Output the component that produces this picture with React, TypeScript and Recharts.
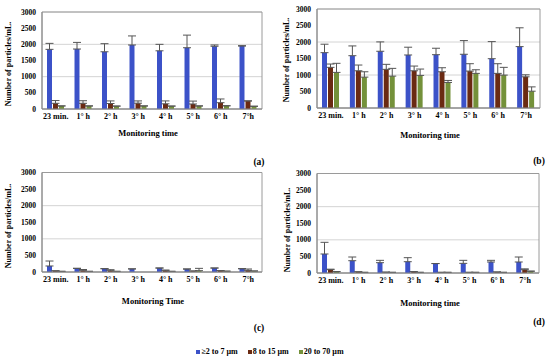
import { BarChart, Bar, XAxis, YAxis, CartesianGrid, ErrorBar, ReferenceArea } from "recharts";

const times = ["23 min.", "1° h", "2° h", "3° h", "4° h", "5° h", "6° h", "7°h"];
const yTicks = [0, 500, 1000, 1500, 2000, 2500, 3000];

// panel (a)
const aSmall = [1845, 1855, 1770, 1980, 1800, 1895, 1940, 1948];
const aSmallErr = [185, 205, 250, 280, 200, 390, 40, 10];
const aMid = [176, 176, 170, 180, 160, 155, 195, 250];
const aMidErr = [85, 80, 80, 70, 90, 90, 115, 0];
const aLarge = [95, 95, 90, 95, 90, 95, 100, 85];
const aLargeErr = [0, 0, 0, 0, 0, 0, 0, 0];

// panel (b)
const bSmall = [1677, 1585, 1719, 1607, 1616, 1628, 1494, 1860];
const bSmallErr = [256, 296, 284, 235, 195, 415, 518, 570];
const bMid = [1232, 1128, 1171, 1128, 1098, 1119, 1049, 945];
const bMidErr = [100, 174, 152, 143, 122, 223, 293, 61];
const bLarge = [1079, 936, 966, 988, 774, 1049, 997, 509];
const bLargeErr = [275, 162, 235, 192, 61, 110, 235, 131];

// panel (c)
const cSmall = [181, 110, 100, 94, 120, 90, 120, 100];
const cSmallErr = [150, 0, 0, 0, 0, 0, 0, 0];
const cMid = [35, 40, 40, 0, 40, 30, 40, 50];
const cMidErr = [0, 35, 30, 0, 20, 0, 0, 40];
const cLarge = [20, 20, 20, 0, 20, 40, 25, 30];
const cLargeErr = [0, 0, 0, 0, 0, 70, 0, 0];

// panel (d)
const dSmall = [573, 371, 311, 341, 285, 291, 332, 332];
const dSmallErr = [352, 111, 71, 121, 0, 91, 50, 150];
const dMid = [100, 35, 25, 40, 20, 20, 30, 100];
const dMidErr = [15, 0, 0, 0, 0, 0, 0, 25];
const dLarge = [40, 20, 20, 20, 20, 20, 20, 55];
const dLargeErr = [0, 0, 0, 0, 0, 0, 0, 0];

const seriesNames = ["≥2 to 7 µm", "8 to 15 µm", "20 to 70 µm"];
const colors = ["#3c52c8", "#6a2a12", "#74913a"];

const serif = "'Liberation Serif', 'Times New Roman', serif";

function rows(s: number[], se: number[], m: number[], me: number[], l: number[], le: number[]) {
  return times.map((t, i) => ({
    time: t,
    small: s[i], smallErr: [0, se[i]],
    mid: m[i], midErr: [0, me[i]],
    large: l[i], largeErr: [0, le[i]],
  }));
}

type PanelProps = {
  data: ReturnType<typeof rows>;
  left: number;
  top: number;
  height: number;
  marginTop: number;
  marginRight: number;
};

function Panel({ data, left, top, height, marginTop, marginRight }: PanelProps) {
  return (
    <div style={{ position: "absolute", left, top }}>
      <BarChart
        width={275}
        height={height}
        data={data}
        margin={{ top: marginTop, right: marginRight, left: 0, bottom: 0 }}
        barSize={5}
        barGap={1}
      >
        <CartesianGrid vertical={false} stroke="#d4d4d4" />
        <ReferenceArea y1={0} y2={3000} fill="none" stroke="#9a9a9a" strokeOpacity={1} />
        <XAxis
          dataKey="time"
          height={16}
          tickSize={0}
          tickMargin={4}
          axisLine={{ stroke: "#888" }}
          interval={0}
          tick={{ fontSize: 8, fontWeight: "bold", fill: "#000", fontFamily: serif }}
        />
        <YAxis
          width={42}
          domain={[0, 3000]}
          ticks={yTicks}
          tickSize={0}
          tickMargin={6}
          axisLine={{ stroke: "#888" }}
          tick={{ fontSize: 7.5, fontWeight: "bold", fill: "#000", fontFamily: serif }}
        />
        <Bar dataKey="small" fill={colors[0]} isAnimationActive={false}>
          <ErrorBar dataKey="smallErr" width={4} stroke="#555" strokeWidth={1} direction="y" />
        </Bar>
        <Bar dataKey="mid" fill={colors[1]} isAnimationActive={false}>
          <ErrorBar dataKey="midErr" width={4} stroke="#555" strokeWidth={1} direction="y" />
        </Bar>
        <Bar dataKey="large" fill={colors[2]} isAnimationActive={false}>
          <ErrorBar dataKey="largeErr" width={4} stroke="#555" strokeWidth={1} direction="y" />
        </Bar>
      </BarChart>
    </div>
  );
}

const textBase = {
  position: "absolute" as const,
  fontFamily: serif,
  fontWeight: "bold" as const,
  color: "#000",
  whiteSpace: "nowrap" as const,
  lineHeight: 1,
};

function YLabel({ x, y }: { x: number; y: number }) {
  return (
    <div
      style={{
        ...textBase,
        fontSize: 8,
        left: x,
        top: y,
        transform: "translate(-50%, -50%) rotate(-90deg)",
      }}
    >
      Number of particles/mL.
    </div>
  );
}

function Caption({ x, y, text, size }: { x: number; y: number; text: string; size: number }) {
  return (
    <div style={{ ...textBase, fontSize: size, left: x, top: y, transform: "translate(-50%, -50%)" }}>
      {text}
    </div>
  );
}

export default function App() {
  return (
    <div style={{ position: "absolute", left: 0, top: 0, width: 550, height: 361, background: "#fff", overflow: "hidden" }}>
      <Panel data={rows(aSmall, aSmallErr, aMid, aMidErr, aLarge, aLargeErr)} left={0} top={0} height={125} marginTop={12} marginRight={13} />
      <Panel data={rows(bSmall, bSmallErr, bMid, bMidErr, bLarge, bLargeErr)} left={275} top={0} height={124} marginTop={9} marginRight={10} />
      <Panel data={rows(cSmall, cSmallErr, cMid, cMidErr, cLarge, cLargeErr)} left={0} top={160} height={128} marginTop={12.5} marginRight={13} />
      <Panel data={rows(dSmall, dSmallErr, dMid, dMidErr, dLarge, dLargeErr)} left={275} top={160} height={129} marginTop={13.5} marginRight={11} />

      <YLabel x={9} y={64} />
      <YLabel x={287} y={60} />
      <YLabel x={9} y={226} />
      <YLabel x={288} y={230} />

      <Caption x={148} y={133} text="Monitoring time" size={8.5} />
      <Caption x={430} y={135} text="Monitoring time" size={8.5} />
      <Caption x={153} y={301} text="Monitoring Time" size={8.5} />
      <Caption x={430} y={303} text="Monitoring time" size={8.5} />

      <Caption x={259} y={163} text="(a)" size={9.5} />
      <Caption x={539} y={162} text="(b)" size={9.5} />
      <Caption x={259} y={329} text="(c)" size={9.5} />
      <Caption x={539} y={323} text="(d)" size={9.5} />

      <div
        style={{
          ...textBase,
          fontSize: 8,
          left: 0,
          width: 550,
          top: 348,
          display: "flex",
          justifyContent: "center",
          paddingRight: 10,
          boxSizing: "border-box",
          gap: 10,
        }}
      >
        {seriesNames.map((n, i) => (
          <span key={n} style={{ display: "flex", alignItems: "center" }}>
            <span style={{ display: "inline-block", width: 4, height: 4, background: colors[i], marginRight: 1 }} />
            {n}
          </span>
        ))}
      </div>
    </div>
  );
}
